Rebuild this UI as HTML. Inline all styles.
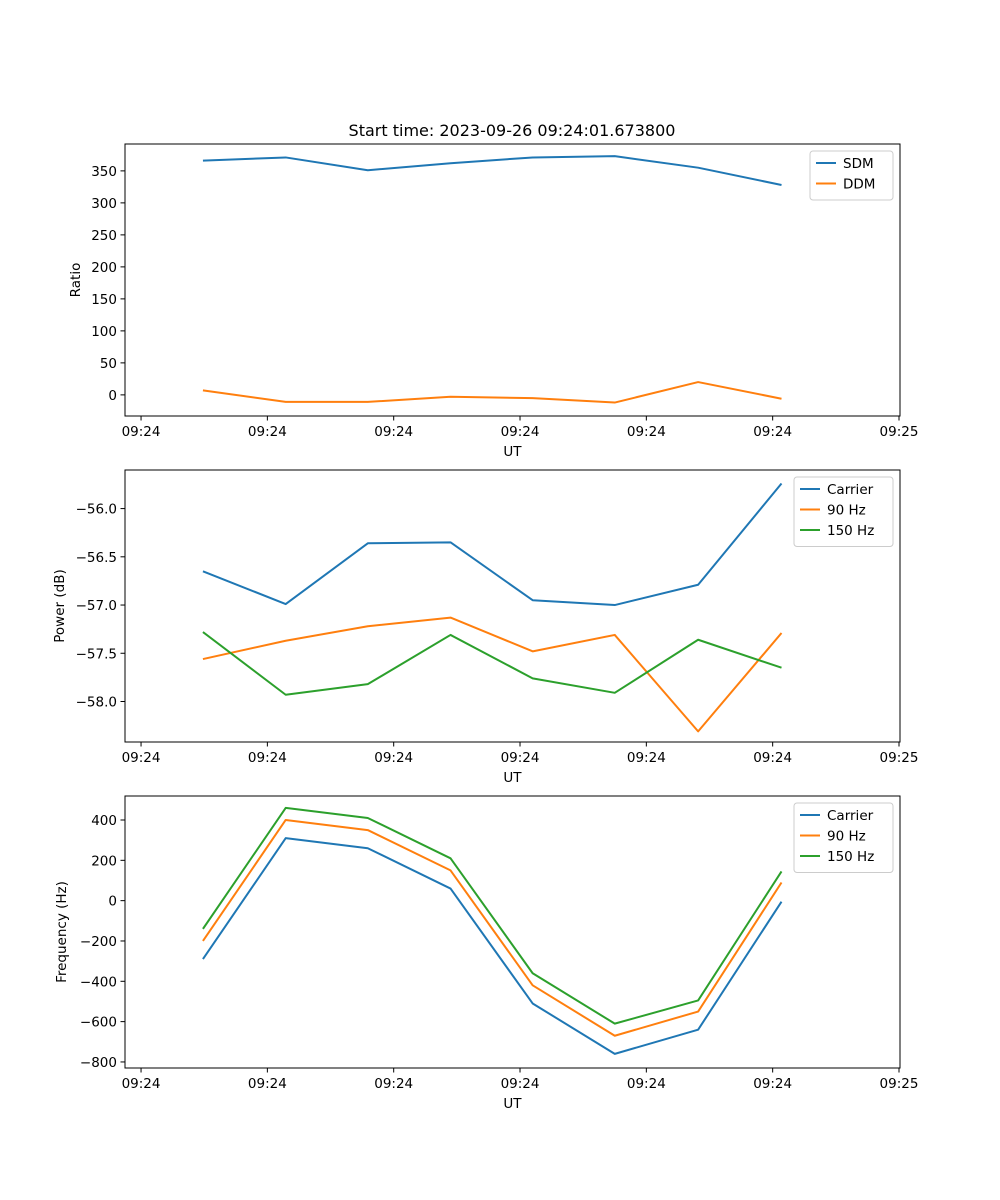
<!DOCTYPE html>
<html><head><meta charset="utf-8"><style>
html,body{margin:0;padding:0;background:#fff;}
svg{display:block;font-family:"DejaVu Sans","Liberation Sans",sans-serif;}
</style></head><body>
<svg id="fig" width="1000" height="1200" viewBox="0 0 1000 1200" xmlns="http://www.w3.org/2000/svg">
<rect width="1000" height="1200" fill="#fff"/>
<text x="512" y="136" font-size="16" text-anchor="middle">Start time: 2023-09-26 09:24:01.673800</text>
</svg>
<script>
const times = [4.9, 11.45, 17.95, 24.5, 31.0, 37.5, 44.1, 50.7];
const xTicks = [0, 10, 20, 30, 40, 50, 60];
const xTickLabels = ["09:24","09:24","09:24","09:24","09:24","09:24","09:25"];
const sdm = [366, 371, 351, 362, 371, 373, 355, 328];
const ddm = [7, -11, -11, -3, -5, -12, 20, -6];
const ratioTicks = [0, 50, 100, 150, 200, 250, 300, 350];
const powCarrier = [-56.65, -56.99, -56.36, -56.35, -56.95, -57.0, -56.79, -55.74];
const pow90 = [-57.56, -57.37, -57.22, -57.13, -57.48, -57.31, -58.31, -57.29];
const pow150 = [-57.28, -57.93, -57.82, -57.31, -57.76, -57.91, -57.36, -57.65];
const powTicks = [-58.0, -57.5, -57.0, -56.5, -56.0];
const freqCarrier = [-290, 310, 260, 60, -510, -760, -640, -5];
const freq90 = [-200, 400, 350, 150, -420, -670, -550, 90];
const freq150 = [-140, 460, 410, 210, -360, -610, -495, 145];
const freqTicks = [-800, -600, -400, -200, 0, 200, 400];

const NS = "http://www.w3.org/2000/svg";
const svg = document.getElementById("fig");
const C = {blue:"#1f77b4", orange:"#ff7f0e", green:"#2ca02c"};
function mk(tag, attrs, parent){const e=document.createElementNS(NS,tag);for(const k in attrs)e.setAttribute(k,attrs[k]);(parent||svg).appendChild(e);return e;}
const L=125, R=900;
const xMin=-1.27, xMax=60.08;
function xs(t){return L+(t-xMin)/(xMax-xMin)*(R-L);}

function panel(name, top, bot, yMin, yMax, yTicks, fmt, ylabel, series, legendH){
  const g=mk("g",{});
  
  
  const ys=v=>bot-(v-yMin)/(yMax-yMin)*(bot-top);
  series.forEach(s=>{
    const p=mk("polyline",{points:s.vals.map((v,i)=>xs(times[i])+","+ys(v)).join(" "),fill:"none",stroke:s.color,"stroke-width":2,"stroke-linejoin":"round"},g);
    
    
  });
  const fr=mk("rect",{x:L,y:top,width:R-L,height:bot-top,fill:"none",stroke:"#000","stroke-width":1},g);
  
  
  yTicks.forEach(v=>{
    const y=ys(v);
    mk("line",{x1:L-4.5,x2:L,y1:y,y2:y,stroke:"#000","stroke-width":1},g);
    const t=mk("text",{x:L-8,y:y+5,"font-size":13.5,"text-anchor":"end"},g);
    t.textContent=fmt(v);
    
    
  });
  xTicks.forEach((v,i)=>{
    const x=xs(v);
    mk("line",{x1:x,x2:x,y1:bot,y2:bot+4.5,stroke:"#000","stroke-width":1},g);
    const t=mk("text",{x:x,y:bot+20,"font-size":13.5,"text-anchor":"middle"},g);
    t.textContent=xTickLabels[i];
    
    
  });
  const xl=mk("text",{x:(L+R)/2,y:bot+40,"font-size":13.5,"text-anchor":"middle"},g);
  xl.textContent="UT";
  
  
  const yl=mk("text",{x:0,y:0,"font-size":13.5,"text-anchor":"middle",transform:"translate("+ylabel.x+","+(top+bot)/2+") rotate(-90)"},g);
  yl.textContent=ylabel.t;
  
  
  const lw=legendH.w, lx=R-7-lw, ly=top+7;
  const lg=mk("g",{},g);
  
  
  mk("rect",{x:lx,y:ly,width:lw,height:8+series.length*20.5,rx:3,fill:"#fff","fill-opacity":0.8,stroke:"#ccc","stroke-width":1},lg);
  series.forEach((s,i)=>{
    const yy=ly+12+i*20.5;
    mk("line",{x1:lx+6,x2:lx+26,y1:yy,y2:yy,stroke:s.color,"stroke-width":2},lg);
    const t=mk("text",{x:lx+33,y:yy+5,"font-size":13.5},lg);
    t.textContent=s.label;
    
    
  });
}
panel("ratio",144,416,-33,392,ratioTicks,v=>String(v),{x:80,t:"Ratio"},
  [{key:"sdm",label:"SDM",vals:sdm,color:C.blue},{key:"ddm",label:"DDM",vals:ddm,color:C.orange}],{w:83});
panel("power",470,742,-58.42,-55.60,powTicks,v=>"\u2212"+Math.abs(v).toFixed(1),{x:64,t:"Power (dB)"},
  [{key:"carrier",label:"Carrier",vals:powCarrier,color:C.blue},{key:"90hz",label:"90 Hz",vals:pow90,color:C.orange},{key:"150hz",label:"150 Hz",vals:pow150,color:C.green}],{w:99});
panel("frequency",796,1068,-830,519,freqTicks,v=>v<0?"\u2212"+Math.abs(v):String(v),{x:66,t:"Frequency (Hz)"},
  [{key:"carrier",label:"Carrier",vals:freqCarrier,color:C.blue},{key:"90hz",label:"90 Hz",vals:freq90,color:C.orange},{key:"150hz",label:"150 Hz",vals:freq150,color:C.green}],{w:99});
</script>
</body></html>
